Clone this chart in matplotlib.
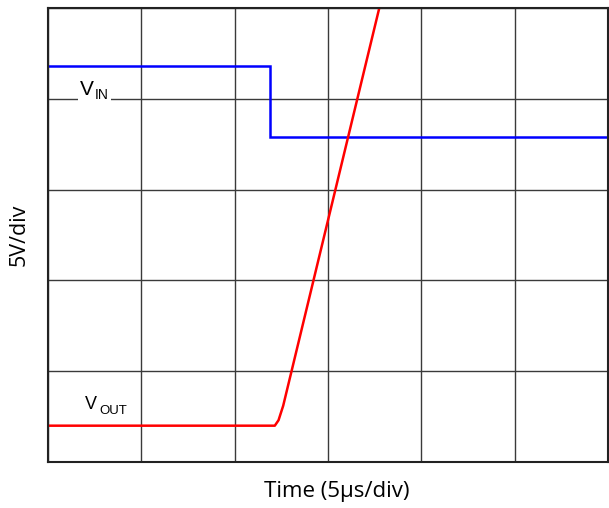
import matplotlib
matplotlib.use("Agg")
import matplotlib.pyplot as plt
from matplotlib.patches import Rectangle

# Data in divisions (x: 0..6 time divisions, y: 0..5 voltage divisions)
vin_t = [0.0, 2.38, 2.38, 6.0]
vin_v = [4.36, 4.36, 3.58, 3.58]

vout_t = [0.0, 2.43, 2.47, 2.52, 3.62]
vout_v = [0.40, 0.40, 0.46, 0.62, 5.3]

x_divs = list(range(0, 7))
y_divs = list(range(0, 6))

W, H = 609, 508
fig = plt.figure(figsize=(W / 100, H / 100), dpi=100)
ax = fig.add_axes([48 / W, (H - 462) / H, 560 / W, 454 / H])
ax.set_xlim(0, 6)
ax.set_ylim(0, 5)
ax.set_xticks(x_divs)
ax.set_yticks(y_divs)
ax.tick_params(length=0, labelbottom=False, labelleft=False)
ax.grid(True, color="#3a3a3a", linewidth=1.0)
for s in ax.spines.values():
    s.set_color("#222222")
    s.set_linewidth(1.5)

ax.plot(vin_t, vin_v, color="#0000ff", linewidth=1.8, solid_joinstyle="miter")
ax.plot(vout_t, vout_v, color="#ff0000", linewidth=1.8)

lab_font = dict(family="Liberation Sans", color="black")
# white gap behind V_IN label on the gridline
ax.add_patch(Rectangle((0.32, 3.93), 0.355, 0.14, facecolor="white",
                       edgecolor="none", zorder=3))
ax.text(0.345, 4.04, "V", fontsize=15, ha="left", va="baseline", zorder=6, **lab_font)
ax.text(0.50, 4.00, "IN", fontsize=10, ha="left", va="baseline", zorder=6, **lab_font)
# V_OUT label
ax.text(0.40, 0.584, "V", fontsize=13, ha="left", va="baseline", **lab_font)
ax.text(0.555, 0.53, "OUT", fontsize=9.5, ha="left", va="baseline", **lab_font)

fig.text(336.5 / W, 1 - 491 / H, "Time (5µs/div)", fontsize=16, family="Open Sans",
         ha="center", va="center")
fig.text(19 / W, 1 - 234.5 / H, "5V/div", fontsize=15.5, family="Open Sans",
         ha="center", va="center", rotation=90)

fig.savefig("out.png", dpi=100)
